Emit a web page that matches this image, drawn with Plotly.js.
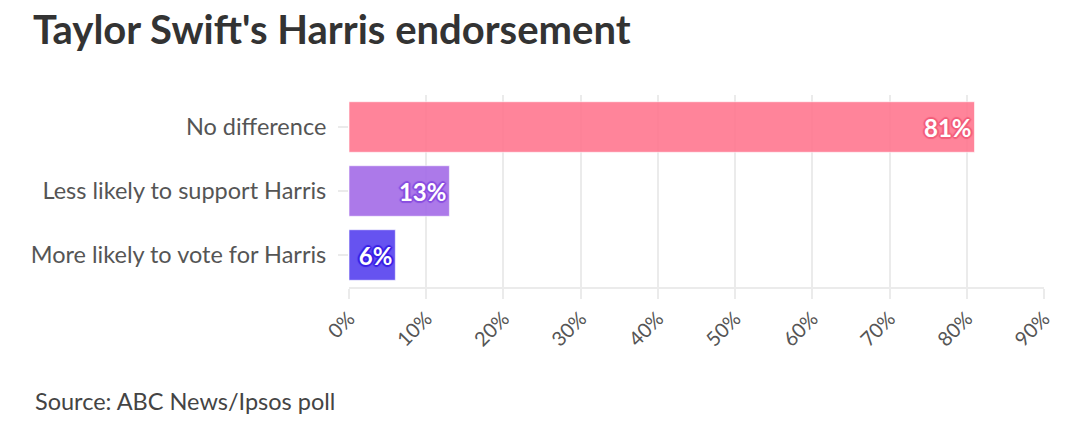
<!DOCTYPE html>
<html>
<head>
<meta charset="utf-8">
<script src="https://cdn.plot.ly/plotly-3.0.1.min.js"></script>
<style>html,body{margin:0;padding:0;background:#fff;}#chart{width:1080px;height:436px;}</style>
</head>
<body>
<div id="chart"></div>
<script>
const categories = ["No difference", "Less likely to support Harris", "More likely to vote for Harris"];
const values = [81, 13, 6];
const labels = ["81%", "13%", "6%"];
const barColors = ["#ff7a92", "#a56ee8", "#5a45ef"];
const outlineColors = ["#f2607c", "#8a4fe0", "#3c22e6"];
const tickVals = [0, 10, 20, 30, 40, 50, 60, 70, 80, 90];
const tickText = ["0%", "10%", "20%", "30%", "40%", "50%", "60%", "70%", "80%", "90%"];

const FONT = "Lato, 'Source Sans Pro', 'Noto Sans', sans-serif";

function outline(c) {
  const o = [];
  for (const [dx, dy] of [[1,0],[-1,0],[0,1],[0,-1],[1,1],[-1,-1],[1,-1],[-1,1],[2,0],[-2,0],[0,2],[0,-2]]) {
    o.push(dx + "px " + dy + "px 1px " + c);
  }
  return o.join(", ");
}

const traces = categories.map((cat, i) => ({
  type: "bar",
  orientation: "h",
  y: [cat],
  x: [values[i]],
  text: [labels[i]],
  textposition: "inside",
  insidetextanchor: "end",
  constraintext: "none",
  textfont: {family: FONT, size: 24, color: "#ffffff", weight: 700, shadow: outline(outlineColors[i])},
  marker: {color: barColors[i], opacity: 0.92, line: {color: "rgba(255,255,255,0.6)", width: 1}},
  hoverinfo: "none",
  showlegend: false
}));

const layout = {
  width: 1080,
  height: 436,
  margin: {l: 349, r: 36, t: 95, b: 149},
  paper_bgcolor: "#ffffff",
  plot_bgcolor: "#ffffff",
  barmode: "overlay",
  bargap: 0.21,
  font: {family: FONT, color: "#444444"},
  title: {
    text: "<b>Taylor Swift's Harris endorsement</b>",
    x: 33/1080, xref: "container", xanchor: "left",
    y: 1, yref: "container", yanchor: "top",
    pad: {t: 16},
    font: {family: FONT, size: 40, color: "#333333"}
  },
  xaxis: {
    range: [0, 90],
    tickvals: tickVals,
    ticktext: tickText,
    tickangle: -45,
    tickfont: {family: FONT, size: 20, color: "#555555"},
    showgrid: true,
    gridcolor: "#ebebeb",
    gridwidth: 2,
    zeroline: false,
    showline: true,
    linecolor: "#ebebeb",
    linewidth: 2,
    ticks: "outside",
    ticklen: 10,
    tickcolor: "#ebebeb",
    tickwidth: 2,
    fixedrange: true
  },
  yaxis: {
    categoryorder: "array",
    categoryarray: categories.slice().reverse(),
    tickfont: {family: FONT, size: 23.5, color: "#555555"},
    ticks: "outside",
    ticklen: 10,
    tickcolor: "#ebebeb",
    tickwidth: 2,
    ticklabelstandoff: 7,
    showgrid: false,
    zeroline: false,
    showline: false,
    fixedrange: true
  },
  annotations: [{
    text: "Source: ABC News/Ipsos poll",
    xref: "paper", yref: "paper",
    x: (33 - 349)/695, y: 0, xanchor: "left", yanchor: "bottom",
    yshift: -130,
    xshift: 0,
    showarrow: false,
    font: {family: FONT, size: 23.5, color: "#444444"}
  }]
};

Plotly.newPlot("chart", traces, layout, {displayModeBar: false, staticPlot: true});
</script>
</body>
</html>
